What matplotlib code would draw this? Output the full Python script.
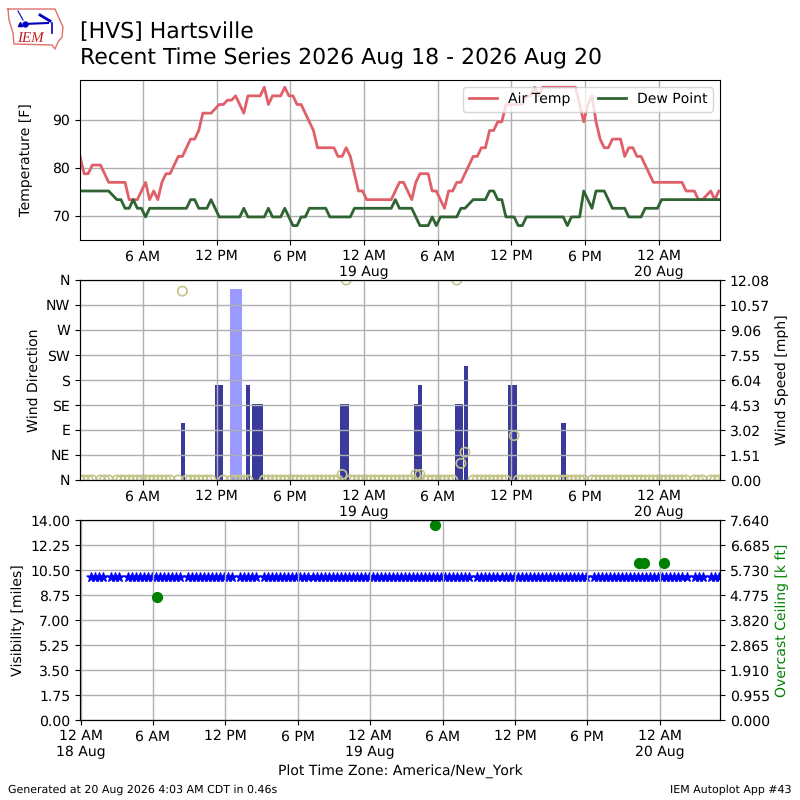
import numpy as np
import matplotlib
matplotlib.use("Agg")
import matplotlib.pyplot as plt

plt.rcParams['text.hinting'] = 'none'
plt.rcParams['text.hinting_factor'] = 1
plt.rcParams['grid.linewidth'] = 1.0

nan = np.nan
start_hour = 0.89   # first ob, hours after midnight 18 Aug
step = 1 / 3        # obs every 20 minutes

air_temp = [
    82.4, 78.8, 78.8, 80.6, 80.6, 80.6, 78.8, 77, 77, 77,
    77, 77, 73.4, 73.4, 73.4, 75.2, 77, 73.4, 75.2, 73.4,
    77, 78.8, 78.8, 80.6, 82.4, 82.4, 84.2, 86, 86, 87.8,
    91.4, 91.4, 91.4, 92.3, 93.2, 93.2, 94.1, 94.1, 95, 93.2,
    91.4, 95, 95, 95, 95, 96.8, 93.2, 95, 95, 95,
    96.8, 95, 95, 93.2, 93.2, 91.4, 89.6, 87.8, 84.2, 84.2,
    84.2, 84.2, 84.2, 82.4, 82.4, 84.2, 82.4, 78.8, 75.2, 75.2,
    73.4, 73.4, 73.4, 73.4, 73.4, 73.4, 73.4, 75.2, 77, 77,
    75.2, 73.4, 77, 78.8, 78.8, 78.8, 75.2, 75.2, 73.4, 71.6,
    75.2, 75.2, 77, 77, 78.8, 80.6, 82.4, 82.4, 84.2, 84.2,
    87.8, 87.8, 89.6, 89.6, 93.2, 93.2, 93.2, 93.2, 93.2, 95,
    95, 96.8, 95, 96.8, 96.8, 96.8, 96.8, 96.8, 96.8, 96.8,
    96.8, 96.8, 93.2, 89.6, 93.2, 95, 89.6, 86, 84.2, 84.2,
    86, 86, 86, 82.4, 84.2, 84.2, 82.4, 82.4, 80.6, 78.8,
    77, 77, 77, 77, 77, 77, 77, 77, 75.2, 75.2,
    75.2, 73.4, 73.4, 74.3, 75.2, 73.4, 75.2,
]
dew_point = [
    75.2, 75.2, 75.2, 75.2, 75.2, 75.2, 75.2, 75.2, 74.3, 73.4,
    73.4, 71.6, 71.6, 73.4, 71.6, 71.6, 69.8, 71.6, 71.6, 71.6,
    71.6, 71.6, 71.6, 71.6, 71.6, 71.6, 71.6, 73.4, 73.4, 71.6,
    71.6, 71.6, 73.4, 71.6, 69.8, 69.8, 69.8, 69.8, 69.8, 69.8,
    71.6, 69.8, 69.8, 69.8, 69.8, 69.8, 71.6, 69.8, 69.8, 69.8,
    71.6, 69.8, 68, 68, 69.8, 69.8, 71.6, 71.6, 71.6, 71.6,
    71.6, 69.8, 69.8, 69.8, 69.8, 69.8, 69.8, 71.6, 71.6, 71.6,
    71.6, 71.6, 71.6, 71.6, 71.6, 71.6, 71.6, 73.4, 71.6, 71.6,
    71.6, 71.6, 69.8, 68, 68, 68, 69.8, 68, 69.8, 69.8,
    69.8, 69.8, 69.8, 71.6, 71.6, 72.5, 73.4, 73.4, 73.4, 73.4,
    75.2, 75.2, 73.4, 73.4, 69.8, 69.8, 69.8, 68, 68, 69.8,
    69.8, 69.8, 69.8, 69.8, 69.8, 69.8, 69.8, 69.8, 69.8, 68,
    69.8, 69.8, 69.8, 75.2, 73.4, 71.6, 75.2, 75.2, 75.2, 73.4,
    71.6, 71.6, 71.6, 71.6, 69.8, 69.8, 69.8, 69.8, 71.6, 71.6,
    71.6, 71.6, 73.4, 73.4, 73.4, 73.4, 73.4, 73.4, 73.4, 73.4,
    73.4, 73.4, 73.4, 73.4, 73.4, 73.4, 73.4,
]
wind_dir = [
    0, 0, 0, 0, nan, 0, 0, 0, nan, 0,
    0, 0, 0, 0, 0, 0, 0, 0, 0, 0,
    0, 0, 0, nan, 0, 340, 0, 0, 0, 0,
    0, 0, 0, nan, nan, 0, nan, 0, 0, 0,
    0, 0, nan, nan, nan, 0, 0, 0, 0, 0,
    0, 0, 0, 0, 0, 0, 0, 0, 0, 0,
    0, 0, 0, 0, 10, 360, 0, 0, 0, 0,
    0, 0, 0, 0, 0, 0, 0, 0, 0, 0,
    0, 0, 10, 10, 0, 0, 0, 0, 0, 0,
    0, 0, 360, 30, 50, nan, 0, 0, 0, 0,
    0, 0, 0, 0, 0, nan, 80, 0, 0, 0,
    0, 0, 0, 0, 0, 0, 0, 0, 0, 0,
    0, 0, 0, 0, nan, 0, 0, 0, 0, 0,
    0, 0, 0, 0, 0, 0, 0, 0, 0, 0,
    0, 0, 0, 0, 0, 0, 0, 0, 0, nan,
    0, 0, 0, nan, 0, 0, 0,
]
visibility = [
    10, 10, 10, 10, nan, 10, 10, 10, nan, 10,
    10, 10, 10, 10, 10, 10, 10, 10, 10, 10,
    10, 10, 10, nan, 10, 10, 10, 10, 10, 10,
    10, 10, 10, 10, 10, 10, nan, 10, 10, 10,
    10, 10, nan, 10, 10, 10, 10, 10, 10, 10,
    10, 10, 10, 10, 10, 10, 10, 10, 10, 10,
    10, 10, 10, 10, 10, 10, 10, 10, 10, 10,
    10, 10, 10, 10, 10, 10, 10, 10, 10, 10,
    10, 10, 10, 10, 10, 10, 10, 10, 10, 10,
    10, 10, 10, 10, 10, nan, 10, 10, 10, 10,
    10, 10, 10, 10, 10, 10, 10, 10, 10, 10,
    10, 10, 10, 10, 10, 10, 10, 10, 10, 10,
    10, 10, 10, 10, nan, 10, 10, 10, 10, 10,
    10, 10, 10, 10, 10, 10, 10, 10, 10, 10,
    10, 10, 10, 10, 10, 10, 10, 10, 10, nan,
    10, 10, 10, nan, 10, 10, 10,
]

# wind speed bars, position in ob counts
bar_obs = [25.1, 33.5, 34.5, 37.1, 38.05, 39, 41, 42.4, 43.2, 44.1, 64.1, 65.1,
           82, 83, 91.95, 92.95, 94.15, 105.1, 106.1, 118.05]
bar_mph = [3.45, 5.76, 5.76, 11.51, 11.51, 11.51, 5.76, 4.6, 4.6, 4.6, 4.6, 4.6,
           4.6, 5.76, 4.6, 4.6, 6.9, 5.76, 5.76, 3.45]

ceiling_hours = [6.33, 29.36, 46.3, 46.67, 48.33]
ceiling_kft = [4.7, 7.45, 6.0, 6.0, 6.0]

day_ticks = [6, 12, 18, 24, 30, 36, 42, 48]
day_labels = ['6 AM', '12 PM', '6 PM', '12 AM\n19 Aug', '6 AM', '12 PM', '6 PM', '12 AM\n20 Aug']
compass = ['N', 'NE', 'E', 'SE', 'S', 'SW', 'W', 'NW', 'N']
speed_ticks = [0, 1.51, 3.02, 4.53, 6.04, 7.55, 9.06, 10.57, 12.08]
vis_ticks = [0, 1.75, 3.5, 5.25, 7, 8.75, 10.5, 12.25, 14]
ceil_ticks = [0, 0.955, 1.91, 2.865, 3.82, 4.775, 5.73, 6.685, 7.64]

hours = start_hour + np.arange(len(air_temp)) * step
bar_hours = start_hour + np.array(bar_obs) * step
xlim = (start_hour, 52.98)

fig = plt.figure(figsize=(8, 8), dpi=100)

# temperature
ax1 = fig.add_axes([0.1, 0.7, 0.8, 0.2])
ax1.plot(hours, air_temp, color='#e0606a', lw=2.0, label='Air Temp')
ax1.plot(hours, dew_point, color='#2f6332', lw=2.0, label='Dew Point')
ax1.set_xlim(xlim)
ax1.set_ylim(65, 98.3)
ax1.set_yticks([70, 80, 90])
ax1.set_xticks(day_ticks)
ax1.set_xticklabels(day_labels)
ax1.set_ylabel('Temperature [F]', labelpad=14)
ax1.grid(True)
ax1.legend(loc='upper right', ncol=2)

# wind
ax2 = fig.add_axes([0.1, 0.4, 0.8, 0.25])
ax2r = ax2.twinx()
ax2.set_zorder(ax2r.get_zorder() + 1)
ax2.patch.set_visible(False)
bar_colors = ['#9999ff' if s > 10 else '#3a3a9c' for s in bar_mph]
ax2r.bar(bar_hours, bar_mph, width=step, color=bar_colors)
ax2.scatter(hours, wind_dir, s=45, facecolors='none', edgecolors='#c4c488', linewidths=1.2)
ax2.set_xlim(xlim)
ax2.set_ylim(0, 360)
ax2.set_yticks(np.arange(0, 361, 45))
ax2.set_yticklabels(compass)
ax2.set_xticks(day_ticks)
ax2.set_xticklabels(day_labels)
ax2.set_ylabel('Wind Direction')
ax2.grid(True)
ax2r.set_ylim(0, 12.08)
ax2r.set_yticks(speed_ticks)
ax2r.set_yticklabels(['%.2f' % v for v in speed_ticks])
ax2r.set_ylabel('Wind Speed [mph]')

# visibility and ceiling
ax3 = fig.add_axes([0.1, 0.1, 0.8, 0.25])
ax3.scatter(hours, visibility, marker='*', s=45, color='blue')
ax3.set_xlim(-0.05, 53.0)
ax3.set_ylim(0, 14)
ax3.set_yticks(vis_ticks)
ax3.set_yticklabels(['%.2f' % v for v in vis_ticks])
ax3.set_xticks([0] + day_ticks)
ax3.set_xticklabels(['12 AM\n18 Aug'] + day_labels)
ax3.set_ylabel('Visibility [miles]')
ax3.set_xlabel('Plot Time Zone: America/New_York', fontsize=10.1)
ax3.grid(True)
ax3r = ax3.twinx()
ax3r.scatter(ceiling_hours, ceiling_kft, s=50, color='green')
ax3r.set_ylim(0, 7.64)
ax3r.set_yticks(ceil_ticks)
ax3r.set_yticklabels(['%.3f' % v for v in ceil_ticks])
ax3r.set_ylabel('Overcast Ceiling [k ft]', color='green')

fig.text(0.1, 0.96, '[HVS] Hartsville', fontsize=16, va='center')
fig.text(0.1, 0.927, 'Recent Time Series 2026 Aug 18 - 2026 Aug 20', fontsize=16, va='center')
fig.text(0.01, 0.0135, 'Generated at 20 Aug 2026 4:03 AM CDT in 0.46s', fontsize=8.25, va='center')
fig.text(0.99, 0.0135, 'IEM Autoplot App #43', fontsize=8, ha='right', va='center')

# rough IEM logo, coordinates are pixels of the top left corner
logo = fig.add_axes([0, 0.9375, 0.1, 0.0625])
logo.set_xlim(0, 80)
logo.set_ylim(50, 0)
logo.axis('off')
logo.plot([8, 55, 58, 63, 62, 58, 55, 52, 14, 13, 9, 8], [9, 9, 16, 27, 37, 42, 49, 45, 44, 33, 20, 9],
          color='#e07070', lw=1)
logo.plot([24, 48], [24, 23], color='#0000c0', lw=1.5)
logo.plot([40, 50], [15, 21], color='#0000c0', lw=2)
logo.plot([52, 52], [23, 33], color='#0000c0', lw=1.2)
logo.plot([18, 23], [11, 20], color='#0000c0', lw=0.8)
logo.plot([25], [23.5], 'o', color='#0000c0', ms=3.5)
logo.plot([20], [24], '^', color='#0000c0', ms=3)
logo.text(30.5, 38, 'IEM', color='#c02020', fontsize=11, family='Liberation Serif', style='italic',
          ha='center', va='center')

fig.savefig('out.png', dpi=100)
